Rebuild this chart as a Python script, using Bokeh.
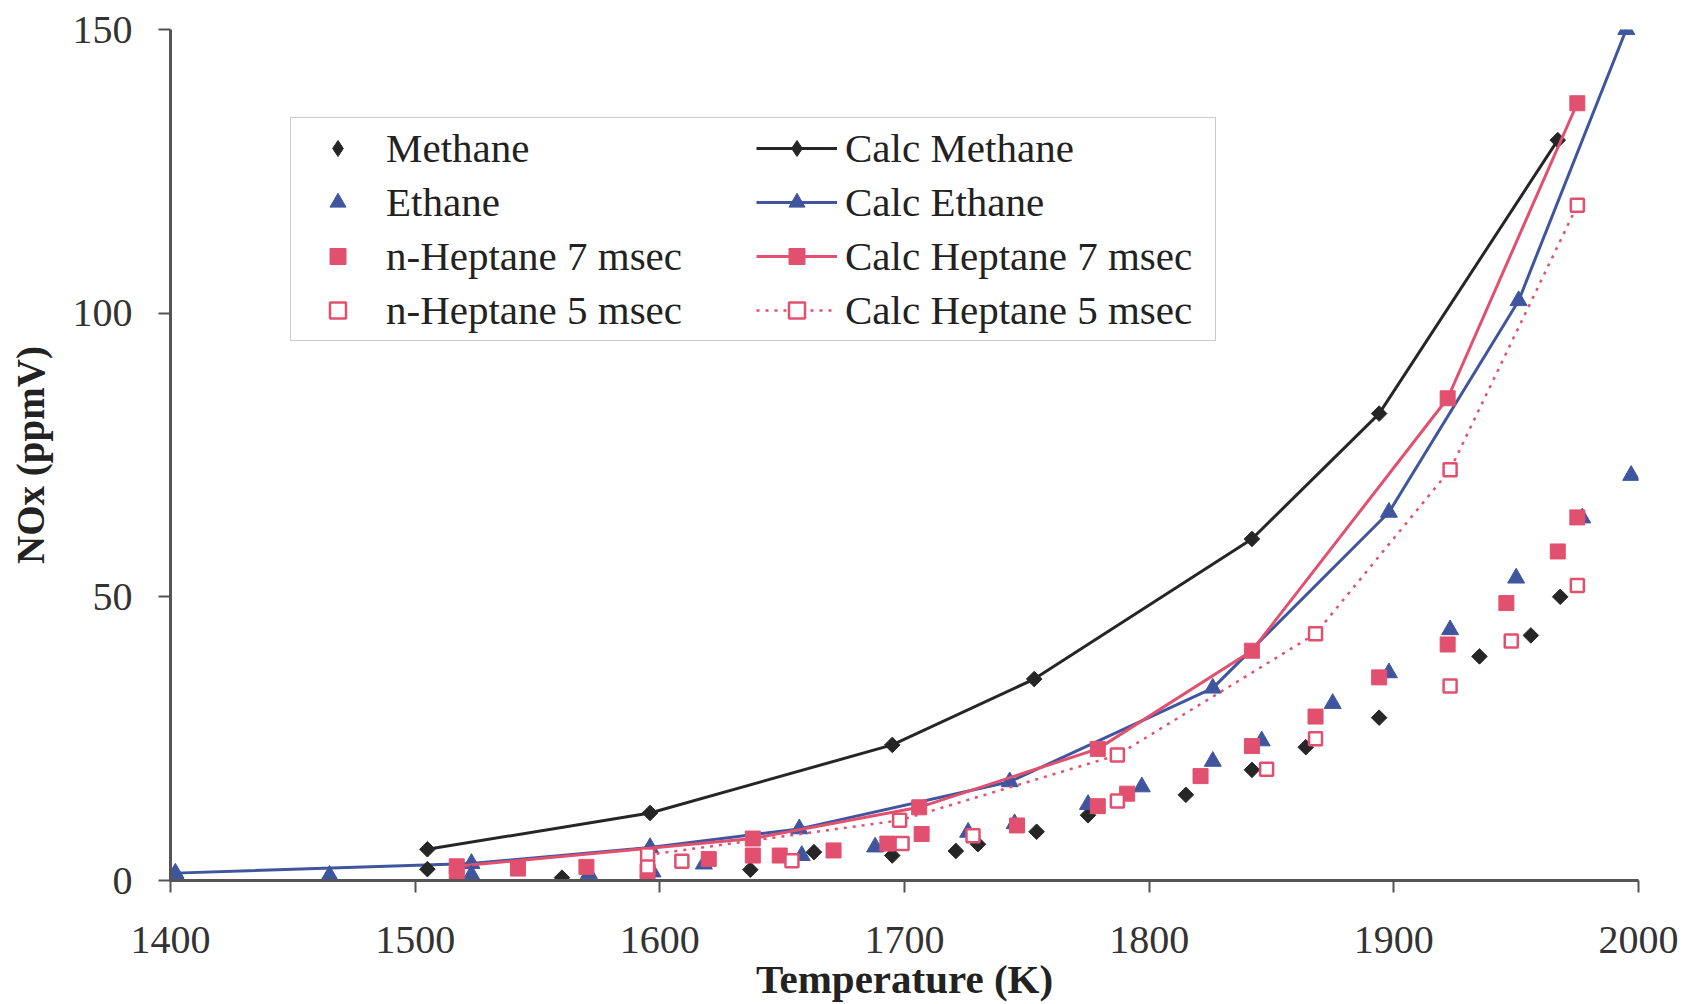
import math
from bokeh.plotting import figure
from bokeh.models import Legend, LegendItem, Range1d, FixedTicker
from bokeh.embed import file_html
from bokeh.resources import INLINE

# ---- data ----
methane_T = [1505, 1560, 1595, 1637, 1663, 1695, 1721, 1730, 1754, 1775, 1815, 1842, 1864, 1894, 1935, 1956, 1968]
methane_N = [2.0, 0.5, 0.8, 1.9, 5.0, 4.4, 5.2, 6.4, 8.6, 11.5, 15.1, 19.5, 23.5, 28.7, 39.5, 43.2, 50.0]

ethane_T = [1403, 1465, 1523, 1571, 1597, 1618, 1658, 1688, 1726, 1745, 1775, 1797, 1826, 1846, 1875, 1898, 1923, 1950, 1977, 1997]
ethane_N = [0.4, 0.9, 1.0, 1.2, 1.5, 2.9, 4.4, 5.9, 8.5, 10.0, 13.4, 16.5, 21.0, 24.6, 31.2, 36.6, 44.2, 53.3, 63.9, 71.4]

hep7_T = [1517, 1542, 1570, 1595, 1620, 1638, 1649, 1671, 1693, 1707, 1746, 1779, 1791, 1821, 1842, 1868, 1894, 1922, 1946, 1967, 1975]
hep7_N = [1.0, 2.1, 2.4, 1.6, 3.8, 4.4, 4.4, 5.3, 6.5, 8.2, 9.7, 13.1, 15.3, 18.4, 23.7, 28.9, 35.8, 41.6, 48.9, 58.0, 64.0]

hep5_T = [1595, 1609, 1654, 1699, 1728, 1787, 1848, 1868, 1923, 1948, 1975]
hep5_N = [2.4, 3.4, 3.5, 6.5, 7.9, 14.0, 19.6, 25.0, 34.3, 42.2, 52.0]

calc_methane_T = [1505, 1596, 1695, 1753, 1842, 1894, 1967]
calc_methane_N = [5.5, 11.9, 23.9, 35.5, 60.2, 82.3, 130.5]

calc_ethane_T = [1402, 1523, 1596, 1657, 1743, 1826, 1898, 1951, 1995]
calc_ethane_N = [1.3, 3.0, 5.8, 9.1, 17.4, 33.9, 64.9, 102.2, 150.0]

calc_hep7_T = [1517, 1638, 1706, 1779, 1842, 1922, 1975]
calc_hep7_N = [2.5, 7.4, 12.9, 23.2, 40.5, 85.0, 137.0]

calc_hep5_T = [1595, 1698, 1787, 1868, 1923, 1975]
calc_hep5_N = [4.5, 10.6, 22.1, 43.5, 72.4, 119.0]

x_ticks = [1400, 1500, 1600, 1700, 1800, 1900, 2000]
y_ticks = [0, 50, 100, 150]

BLACK = "#262626"
BLUE = "#3f569e"
PINK = "#e2506f"
FONT = "Liberation Serif"

p = figure(width=1687, height=1004, output_backend="svg", toolbar_location=None,
           x_range=Range1d(1400, 2000), y_range=Range1d(0, 150),
           min_border_left=170, min_border_right=49, min_border_top=29, min_border_bottom=124)
p.background_fill_color = "white"
p.border_fill_color = "white"
p.outline_line_color = None
p.grid.visible = False

for ax in (p.xaxis[0], p.yaxis[0]):
    ax.axis_line_color = "#555555"
    ax.axis_line_width = 3
    ax.major_tick_line_color = "#555555"
    ax.major_tick_line_width = 2
    ax.major_tick_out = 12
    ax.major_tick_in = 0
    ax.minor_tick_line_color = None
    ax.major_label_text_font = FONT
    ax.major_label_text_font_size = "40px"
    ax.major_label_text_color = "#333333"
    ax.axis_label_text_font = FONT
    ax.axis_label_text_font_style = "bold"
    ax.axis_label_text_color = "#222222"

p.xaxis.axis_label_text_font_size = "41px"
p.yaxis.axis_label_text_font_size = "39px"
p.xaxis.ticker = FixedTicker(ticks=x_ticks)
p.yaxis.ticker = FixedTicker(ticks=y_ticks)
p.xaxis.axis_label = "Temperature (K)"
p.yaxis.axis_label = "NOx (ppmV)"
p.xaxis.major_label_standoff = 34
p.yaxis.major_label_standoff = 26
p.xaxis.axis_label_standoff = 0
p.yaxis.axis_label_standoff = 18

DIAMOND_ANGLE = math.pi / 4

# calculated lines
l_cm = p.line(calc_methane_T, calc_methane_N, line_color=BLACK, line_width=3)
s_cm = p.scatter(calc_methane_T, calc_methane_N, marker="square", angle=DIAMOND_ANGLE, size=11,
                 fill_color=BLACK, line_color=BLACK)
l_ce = p.line(calc_ethane_T, calc_ethane_N, line_color=BLUE, line_width=3)
s_ce = p.scatter(calc_ethane_T, calc_ethane_N, marker="triangle", size=17, fill_color=BLUE, line_color=BLUE)
l_c7 = p.line(calc_hep7_T, calc_hep7_N, line_color=PINK, line_width=3)
s_c7 = p.scatter(calc_hep7_T, calc_hep7_N, marker="square", size=15, fill_color=PINK, line_color=PINK)
l_c5 = p.line(calc_hep5_T, calc_hep5_N, line_color=PINK, line_width=2.5, line_dash="3 6")
s_c5 = p.scatter(calc_hep5_T, calc_hep5_N, marker="square", size=13, fill_color="white",
                 line_color=PINK, line_width=2.5)

# experimental data
d_m = p.scatter(methane_T, methane_N, marker="square", angle=DIAMOND_ANGLE, size=11,
                fill_color=BLACK, line_color=BLACK)
d_e = p.scatter(ethane_T, ethane_N, marker="triangle", size=17, fill_color=BLUE, line_color=BLUE)
d_7 = p.scatter(hep7_T, hep7_N, marker="square", size=15, fill_color=PINK, line_color=PINK)
d_5 = p.scatter(hep5_T, hep5_N, marker="square", size=13, fill_color="white", line_color=PINK, line_width=2.5)

# legend-only diamond glyphs (legend does not rotate markers)
nan = [float("nan")]
g_m = p.scatter(nan, nan, marker="diamond", size=20, fill_color=BLACK, line_color=BLACK)
g_cm = p.scatter(nan, nan, marker="diamond", size=17, fill_color=BLACK, line_color=BLACK)

items = [
    LegendItem(label="Methane", renderers=[g_m]),
    LegendItem(label="Ethane", renderers=[d_e]),
    LegendItem(label="n-Heptane 7 msec", renderers=[d_7]),
    LegendItem(label="n-Heptane 5 msec", renderers=[d_5]),
    LegendItem(label="Calc Methane", renderers=[l_cm, g_cm]),
    LegendItem(label="Calc Ethane", renderers=[l_ce, s_ce]),
    LegendItem(label="Calc Heptane 7 msec", renderers=[l_c7, s_c7]),
    LegendItem(label="Calc Heptane 5 msec", renderers=[l_c5, s_c5]),
]
legend = Legend(items=items, ncols=2, location=(120, 539), margin=0,
                label_text_font=FONT, label_text_font_size="41px", label_text_color="#222222",
                label_text_line_height=1.0,
                glyph_width=81, glyph_height=40, label_standoff=8, label_width=364,
                spacing=6, padding=6,
                border_line_color="#999999", border_line_width=1.5,
                background_fill_color="white", background_fill_alpha=1.0)
p.add_layout(legend, "center")

open("out.html", "w").write(file_html(p, INLINE))
